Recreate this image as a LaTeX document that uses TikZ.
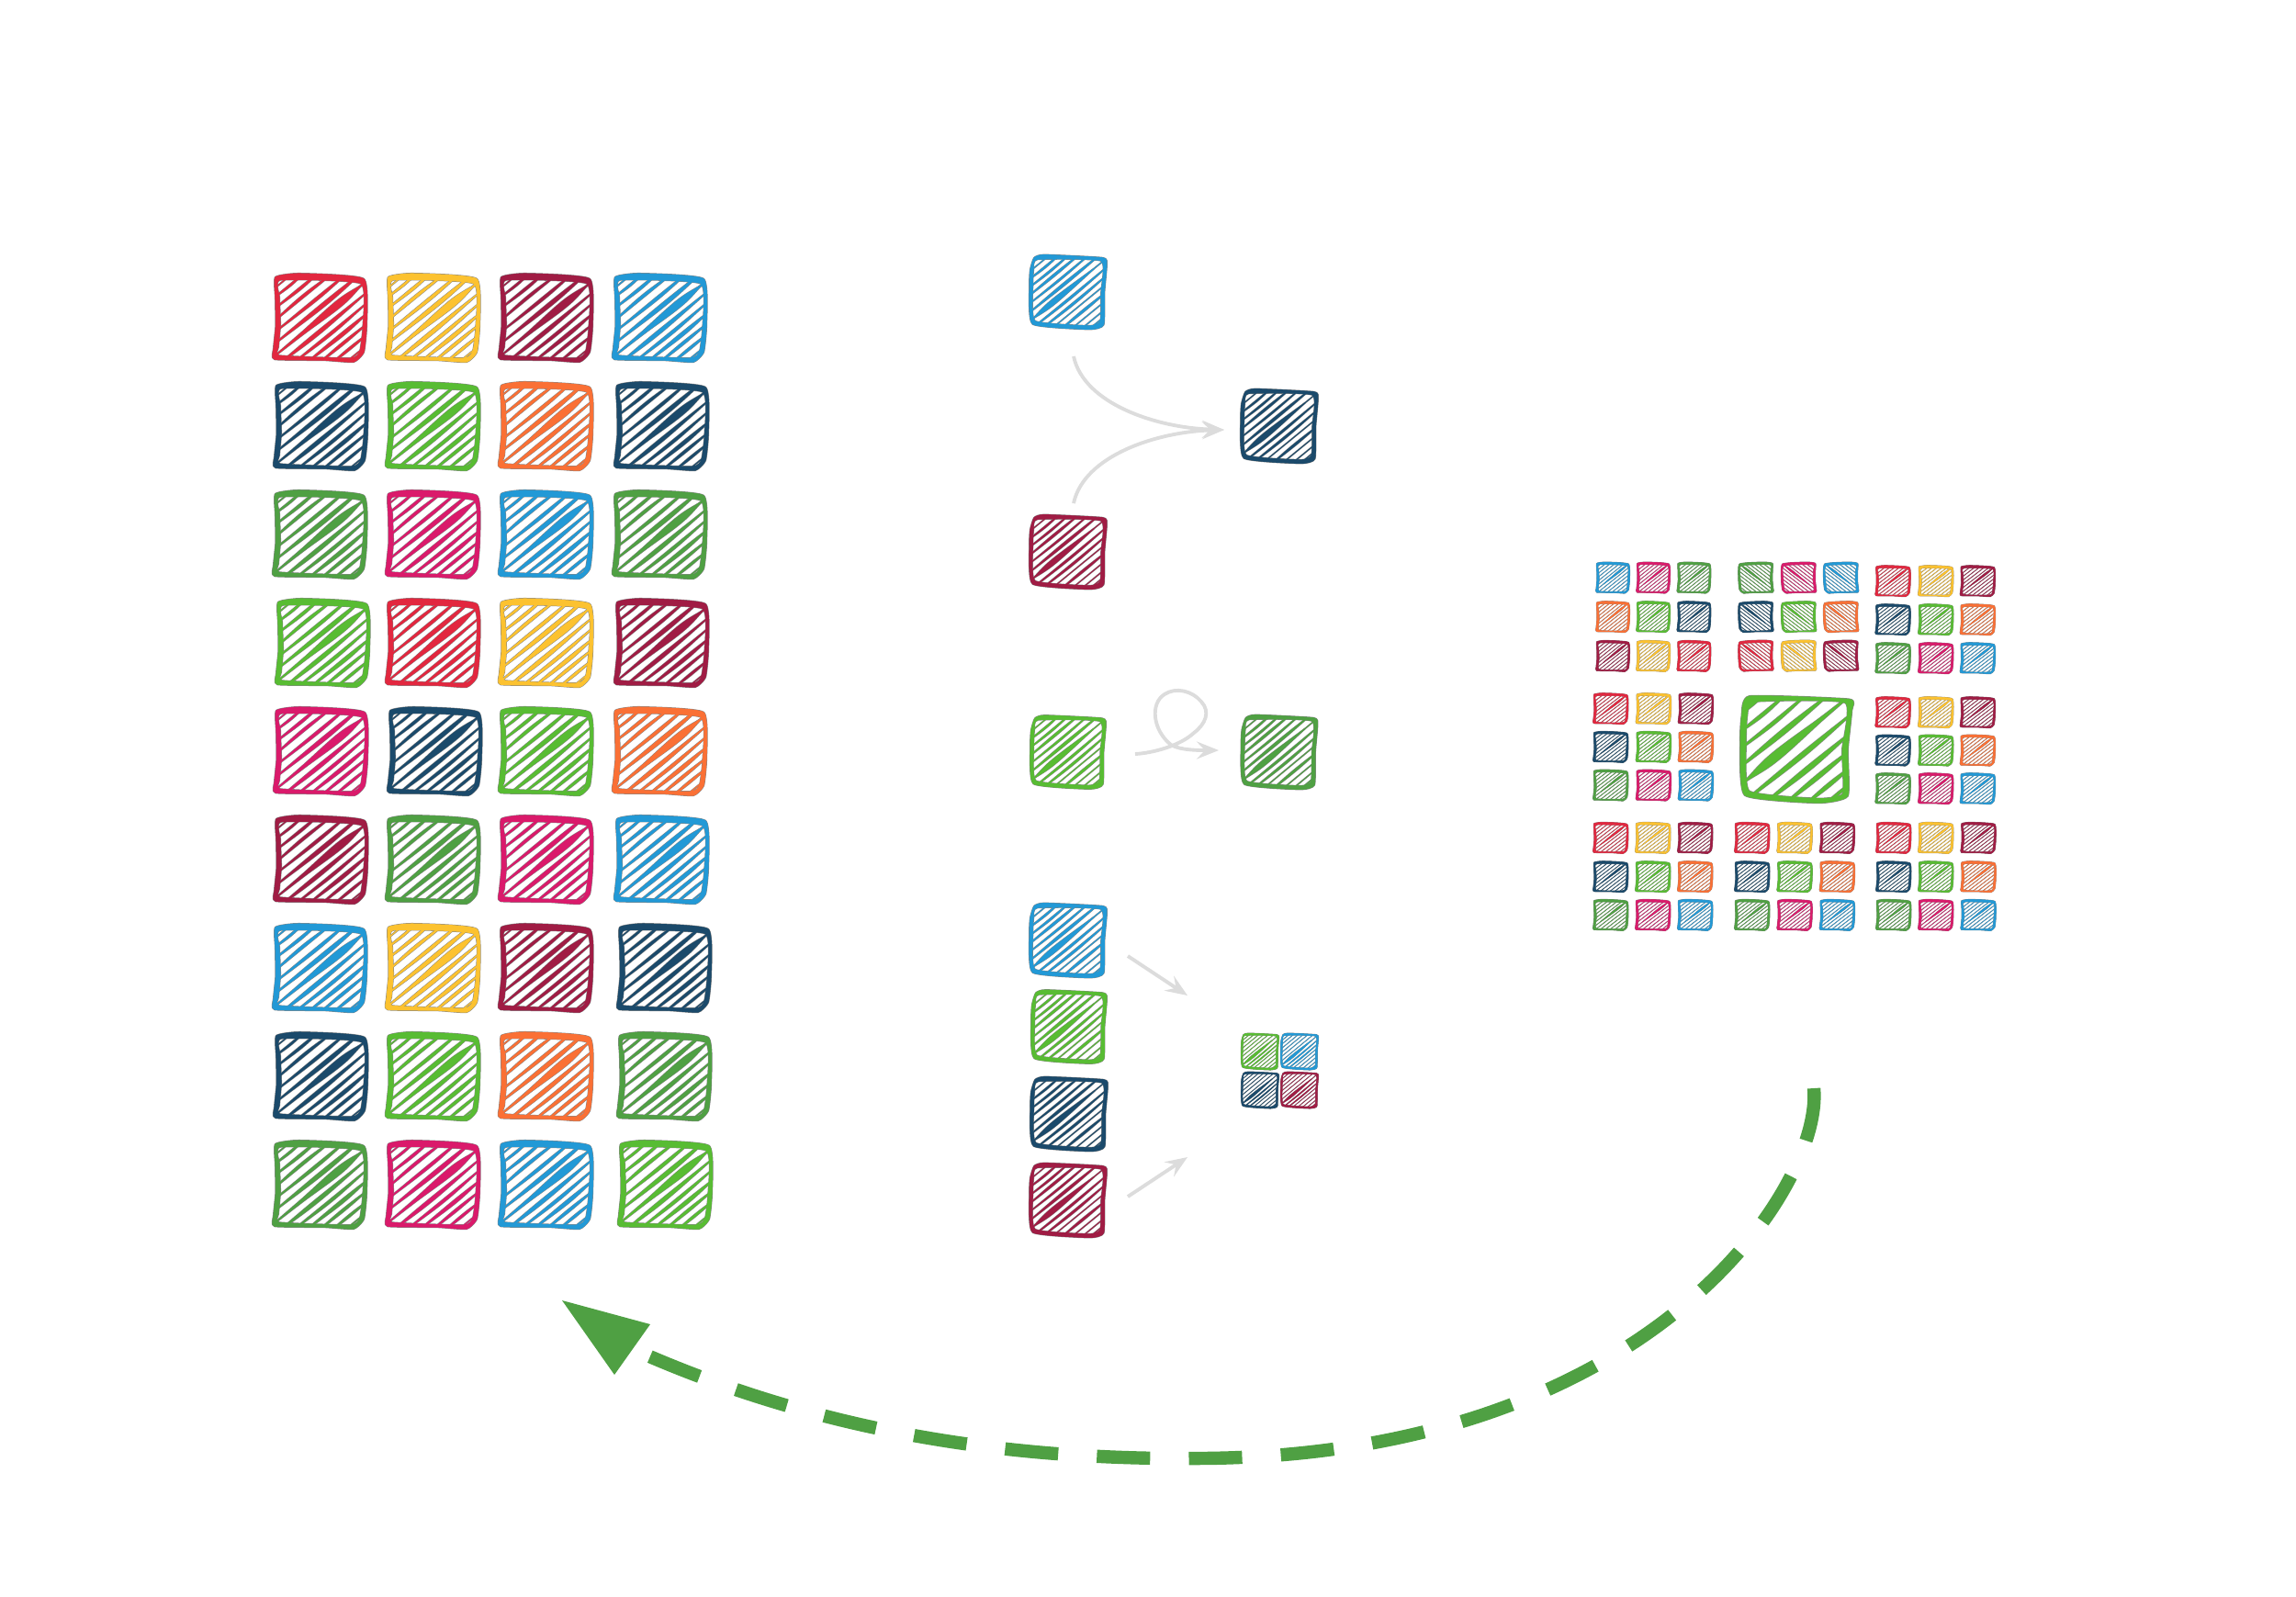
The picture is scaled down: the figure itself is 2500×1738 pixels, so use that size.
\documentclass[tikz,border=0pt]{standalone}
\usetikzlibrary{arrows.meta}
\definecolor{sdgred}{HTML}{E2273F}
\definecolor{sdgyellow}{HTML}{FCC230}
\definecolor{sdgmaroon}{HTML}{A01C44}
\definecolor{sdgblue}{HTML}{2299D6}
\definecolor{sdgnavy}{HTML}{1B4A6B}
\definecolor{sdggreen}{HTML}{58BC33}
\definecolor{sdgorange}{HTML}{FA7035}
\definecolor{sdgdgreen}{HTML}{4FA043}
\definecolor{sdgpink}{HTML}{DA1A6B}
\definecolor{arrowgrey}{HTML}{DCDCDC}
\definecolor{fringe}{HTML}{858585}
\tikzset{
  sqbox/.style={inner sep=0pt,outer sep=0pt,rectangle},
  thinarrow/.style={draw=arrowgrey,line width=1.1pt,
    -{Stealth[length=0.24cm,width=0.19cm,inset=0.09cm]}},
  bigarrow/.style={draw=sdgdgreen,line width=4.1pt,dash pattern=on 16.5pt off 12pt},
  bighead/.style={fill=sdgdgreen}
}
% frame outlines, unit square, y downward
\def\smoothp{plot[smooth cycle,tension=.28] coordinates}
\def\foutA{\smoothp{(-0.49,-0.46)(-0.23,-0.5)(0.47,-0.44)(0.5,0.09)(0.47,0.39)(0.36,0.5)(0.04,0.48)(-0.5,0.47)(-0.51,0.35)(-0.485,0.08)(-0.49,-0.23)}}
\def\finA{\smoothp{(-0.44,-0.43)(0.44,-0.39)(0.465,0.09)(0.43,0.38)(0.33,0.46)(-0.45,0.43)(-0.46,0.33)(-0.44,0.08)(-0.45,-0.23)}}
\def\foutB{\smoothp{(-0.44,-0.46)(-0.31,-0.5)(0.45,-0.46)(0.5,-0.37)(0.47,0.0)(0.46,0.44)(0.28,0.5)(-0.46,0.43)(-0.5,-0.08)(-0.49,-0.3)}}
\def\finB{\smoothp{(-0.40,-0.44)(0.43,-0.42)(0.43,0.0)(0.42,0.39)(0.28,0.455)(-0.43,0.39)(-0.46,-0.08)(-0.45,-0.3)}}
\def\foutC{\smoothp{(-0.41,-0.486)(0.478,-0.457)(0.5,-0.358)(0.464,0.011)(0.464,0.4375)(0.205,0.5)(-0.45,0.43)(-0.49,-0.07)(-0.478,-0.30)}}
\def\finC{\smoothp{(-0.369,-0.44)(0.445,-0.43)(0.42,0.011)(0.425,0.42)(0.2,0.465)(-0.415,0.395)(-0.445,-0.07)(-0.435,-0.3)}}
\let\foutD\foutA
\def\finD{\smoothp{(-0.43,-0.42)(0.43,-0.386)(0.45,0.01)(0.417,0.39)(0.315,0.45)(-0.43,0.43)(-0.42,0.08)(-0.437,-0.23)}}
% hatch lists: offset / half width / position of widest point / bow / span
\def\hlistA{-0.76/.006/.5/0/1,-0.66/.010/.5/.01/1,-0.53/.014/.6/.01/1,-0.39/.020/.5/-.01/1,-0.26/.016/.6/.01/1,-0.13/.024/.6/.01/1,0.01/.020/.5/0/1,0.01/.048/.72/0/.72,0.14/.022/.4/.01/1,0.26/.016/.5/.015/1,0.38/.020/.6/.01/1,0.50/.014/.5/0/1,0.62/.012/.5/0/1,0.74/.008/.5/0/1}
\def\hlistB{-0.80/.006/.5/0/1,-0.70/.008/.5/0/1,-0.60/.011/.5/.01/1,-0.49/.012/.5/.01/1,-0.38/.015/.5/0/1,-0.27/.011/.5/.01/1,-0.15/.018/.5/0/1,-0.03/.012/.5/0/1,-0.03/.042/.28/0/.75,0.09/.012/.5/.015/1,0.20/.018/.5/.01/1,0.31/.012/.5/0/1,0.42/.015/.5/0/1,0.53/.011/.5/0/1,0.64/.008/.5/0/1,0.73/.006/.5/0/1,0.80/.004/.5/0/1}
\def\hlistC{-0.74/.012/.5/0/1,-0.58/.018/.5/.01/1,-0.42/.018/.5/.01/1,-0.25/.024/.5/0/1,-0.08/.020/.5/0/1,-0.08/.050/.30/0/.75,0.10/.022/.55/.01/1,0.27/.024/.5/.01/1,0.43/.020/.5/0/1,0.59/.016/.5/0/1,0.74/.010/.5/0/1}
\def\hlistD{-0.76/.006/.5/0/1,-0.64/.008/.5/0/1,-0.52/.009/.5/0/1,-0.40/.010/.5/0/1,-0.28/.010/.5/0/1,-0.16/.010/.5/0/1,-0.04/.012/.5/0/1,-0.04/.034/.72/0/.7,0.08/.010/.5/0/1,0.20/.010/.5/0/1,0.32/.010/.5/0/1,0.44/.009/.5/0/1,0.56/.008/.5/0/1,0.68/.006/.5/0/1,0.78/.005/.5/0/1}
\newcommand\hatchpass{%
 \foreach \hC/\hW/\hP/\hB/\hS in \hlist {%
  \pgfmathsetmacro\hUa{max(-0.52,(\hC-0.52)/0.85)}%
  \pgfmathsetmacro\hUb{min(0.52,(\hC+0.52)/0.85)}%
  \pgfmathsetmacro\hUm{\hUa+(\hUb-\hUa)*\hP}%
  \pgfmathsetmacro\hUc{\hUm+(\hUa-\hUm)*\hS}%
  \pgfmathsetmacro\hUd{\hUm+(\hUb-\hUm)*\hS}%
  \path[hpass] (\hUc,{\hC-0.85*\hUc}) .. controls ({\hUm+0.65*(\hB+\hW)},{\hC-0.85*\hUm+0.76*(\hB+\hW)}) .. (\hUd,{\hC-0.85*\hUd}) .. controls ({\hUm+0.65*(\hB-\hW)},{\hC-0.85*\hUm+0.76*(\hB-\hW)}) .. cycle;
 }}
% name, x, y, w (negative: mirrored), h, colour, variant
\newcommand\sq[7]{%
 \begingroup
 \edef\sqcol{#6}%
 \pgfmathsetmacro\absw{abs(#4)}%
 \pgfmathsetmacro\lwA{0.2845*1.1*\absw/100}%
 \pgfmathsetmacro\lwB{\lwA+0.2845*(0.3+0.7*\absw/100)}%
 \node[sqbox,minimum width=\absw*0.01cm,minimum height=#5*0.01cm] (#1) at (#2,#3) {};
 \begin{scope}[shift={(#2,#3)},xscale=#4,yscale=#5]
  \expandafter\let\expandafter\hlist\csname hlist#7\endcsname
  \expandafter\let\expandafter\fo\csname fout#7\endcsname
  \expandafter\let\expandafter\finner\csname fin#7\endcsname
  \tikzset{hpass/.style={draw=fringe,fill=fringe,line width=\lwB pt,line join=round}}
  \begin{scope}\clip \fo; \hatchpass \end{scope}
  \path[hpass,even odd rule] \fo \finner;
  \tikzset{hpass/.style={draw=\sqcol,fill=\sqcol,line width=\lwA pt,line join=round}}
  \begin{scope}\clip \fo; \hatchpass \end{scope}
  \path[hpass,even odd rule] \fo \finner;
 \end{scope}
 \endgroup
}
\newcommand\rsq[4]{%
 \pgfmathsetmacro\rX{1720+(#2)/3}%
 \pgfmathsetmacro\rY{600+(#3)/3}%
 \sq{#1}{\rX}{\rY}{\rw}{\rh}{#4}{\rv}}
\newcommand\rrow[8]{%
 \rsq{#1a}{#2}{#5}{#6}\rsq{#1b}{#3}{#5}{#7}\rsq{#1c}{#4}{#5}{#8}}
\newcommand\stdgroup[6]{%
 \rrow{#1a}{#2}{#3}{#4}{#5}{sdgred}{sdgyellow}{sdgmaroon}%
 \rrow{#1b}{#2}{#3}{#4}{#6}{sdgnavy}{sdggreen}{sdgorange}}
\begin{document}
\begin{tikzpicture}[x=0.01cm,y=-0.01cm]
\useasboundingbox (0,0) rectangle (2500,1738);
% left grid
\foreach \yy/\ca/\cb/\cd/\ce/\oa/\ob/\oo [count=\rr] in {
 346/sdgred/sdgyellow/sdgmaroon/sdgblue/0/0/0,
 464/sdgnavy/sdggreen/sdgorange/sdgnavy/1/0/2,
 582/sdgdgreen/sdgpink/sdgblue/sdgdgreen/0/0/0,
 700/sdggreen/sdgred/sdgyellow/sdgmaroon/3/0/2,
 818/sdgpink/sdgnavy/sdggreen/sdgorange/1/2/0,
 936/sdgmaroon/sdgdgreen/sdgpink/sdgblue/1/0/2,
 1054/sdgblue/sdgyellow/sdgmaroon/sdgnavy/0/0/5,
 1172/sdgnavy/sdggreen/sdgorange/sdgdgreen/1/0/5,
 1290/sdgdgreen/sdgpink/sdgblue/sdggreen/0/0/6}{
 \pgfmathsetmacro\xa{349+\oa}\pgfmathsetmacro\xb{472+\ob}\pgfmathsetmacro\xd{719+\oo}
 \sq{g\rr a}{\xa}{\yy}{100}{96}{\ca}{A}
 \sq{g\rr b}{\xb}{\yy}{100}{96}{\cb}{A}
 \sq{g\rr c}{595}{\yy}{100}{96}{\cd}{A}
 \sq{g\rr d}{\xd}{\yy}{100}{96}{\ce}{A}
}
% middle column
\sq{ma}{1163}{318}{84}{81}{sdgblue}{B}
\sq{mb}{1393}{464}{84}{81}{sdgnavy}{B}
\sq{mc}{1163}{601}{84}{81}{sdgmaroon}{B}
\sq{md}{1163}{819}{82}{80}{sdggreen}{B}
\sq{me}{1393}{819}{83}{81}{sdgdgreen}{B}
\sq{mf}{1163}{1024}{84}{81}{sdgblue}{B}
\sq{mg}{1164}{1118}{82}{80}{sdggreen}{B}
\sq{mh}{1164}{1213}{84}{81}{sdgnavy}{B}
\sq{mi}{1163}{1307}{84}{81}{sdgmaroon}{B}
\sq{na}{1372}{1145}{41}{40}{sdggreen}{B}
\sq{nb}{1415}{1145}{41}{40}{sdgblue}{B}
\sq{nc}{1372}{1187}{41}{40}{sdgnavy}{B}
\sq{nd}{1415}{1187}{41}{40}{sdgmaroon}{B}
% thin connectors
\coordinate (a1) at (1169,388); \coordinate (a2) at (1169,548); \coordinate (at) at (1333,468);
\coordinate (l1) at (1236,821); \coordinate (lt) at (1327,817);
\coordinate (b1) at (1228,1041); \coordinate (bt) at (1293,1084);
\coordinate (c1) at (1228,1303); \coordinate (ct) at (1293,1260);
\draw[thinarrow] (a1) .. controls (1180,440) and (1260,466) .. (at);
\draw[thinarrow] (a2) .. controls (1180,496) and (1260,470) .. (at);
\draw[thinarrow] (l1) .. controls (1255,820) and (1285,812) .. (1300,798) .. controls (1313,788) and (1318,775) .. (1308,764) .. controls (1298,752) and (1280,748) .. (1268,756) .. controls (1252,766) and (1255,795) .. (1275,811) .. controls (1285,817) and (1305,817) .. (lt);
\draw[thinarrow] (b1) -- (bt);
\draw[thinarrow] (c1) -- (ct);
% right group
\def\rh{34}
\def\rv{D}\def\rw{36}
\rrow{ta}{109}{241}{374}{87}{sdgblue}{sdgpink}{sdgdgreen}
\rrow{tb}{109}{241}{374}{215}{sdgorange}{sdggreen}{sdgnavy}
\rrow{tc}{109}{241}{374}{343}{sdgmaroon}{sdgyellow}{sdgred}
\def\rw{-37.5}
\rrow{ua}{575}{715}{853}{87}{sdgdgreen}{sdgpink}{sdgblue}
\rrow{ub}{575}{715}{853}{215}{sdgnavy}{sdggreen}{sdgorange}
\rrow{uc}{575}{715}{853}{342}{sdgred}{sdgyellow}{sdgmaroon}
\def\rw{37.5}
\stdgroup{va}{1024}{1164}{1301}{98}{224}
\rrow{vc}{1024}{1164}{1301}{350}{sdgdgreen}{sdgpink}{sdgblue}
\stdgroup{wa}{102}{242}{380}{515}{640}
\rrow{wc}{102}{242}{380}{765}{sdgdgreen}{sdgpink}{sdgblue}
\stdgroup{xa}{1024}{1164}{1301}{527}{651}
\rrow{xc}{1024}{1164}{1301}{776}{sdgdgreen}{sdgpink}{sdgblue}
\stdgroup{ya}{102}{240}{378}{937}{1064}
\rrow{yc}{102}{240}{378}{1189}{sdgdgreen}{sdgpink}{sdgblue}
\stdgroup{za}{564}{703}{842}{937}{1064}
\rrow{zc}{564}{703}{842}{1189}{sdgdgreen}{sdgpink}{sdgblue}
\stdgroup{qa}{1026}{1164}{1303}{937}{1064}
\rrow{qc}{1026}{1164}{1303}{1189}{sdgdgreen}{sdgpink}{sdgblue}
\sq{centre}{1955}{815.3}{122}{117.3}{sdggreen}{C}
% big dashed arrow
\coordinate (d1) at (1975,1185); \coordinate (d2) at (705,1476);
\draw[bigarrow] (d1) .. controls (1985,1290) and (1800,1585) .. (1307,1588) .. controls (1100,1590) and (900,1560) .. (d2);
\coordinate (h1) at (612,1416); \coordinate (h2) at (708,1442); \coordinate (h3) at (669,1497);
\fill[bighead] (h1) -- (h2) -- (h3) -- cycle;
\end{tikzpicture}
\end{document}
